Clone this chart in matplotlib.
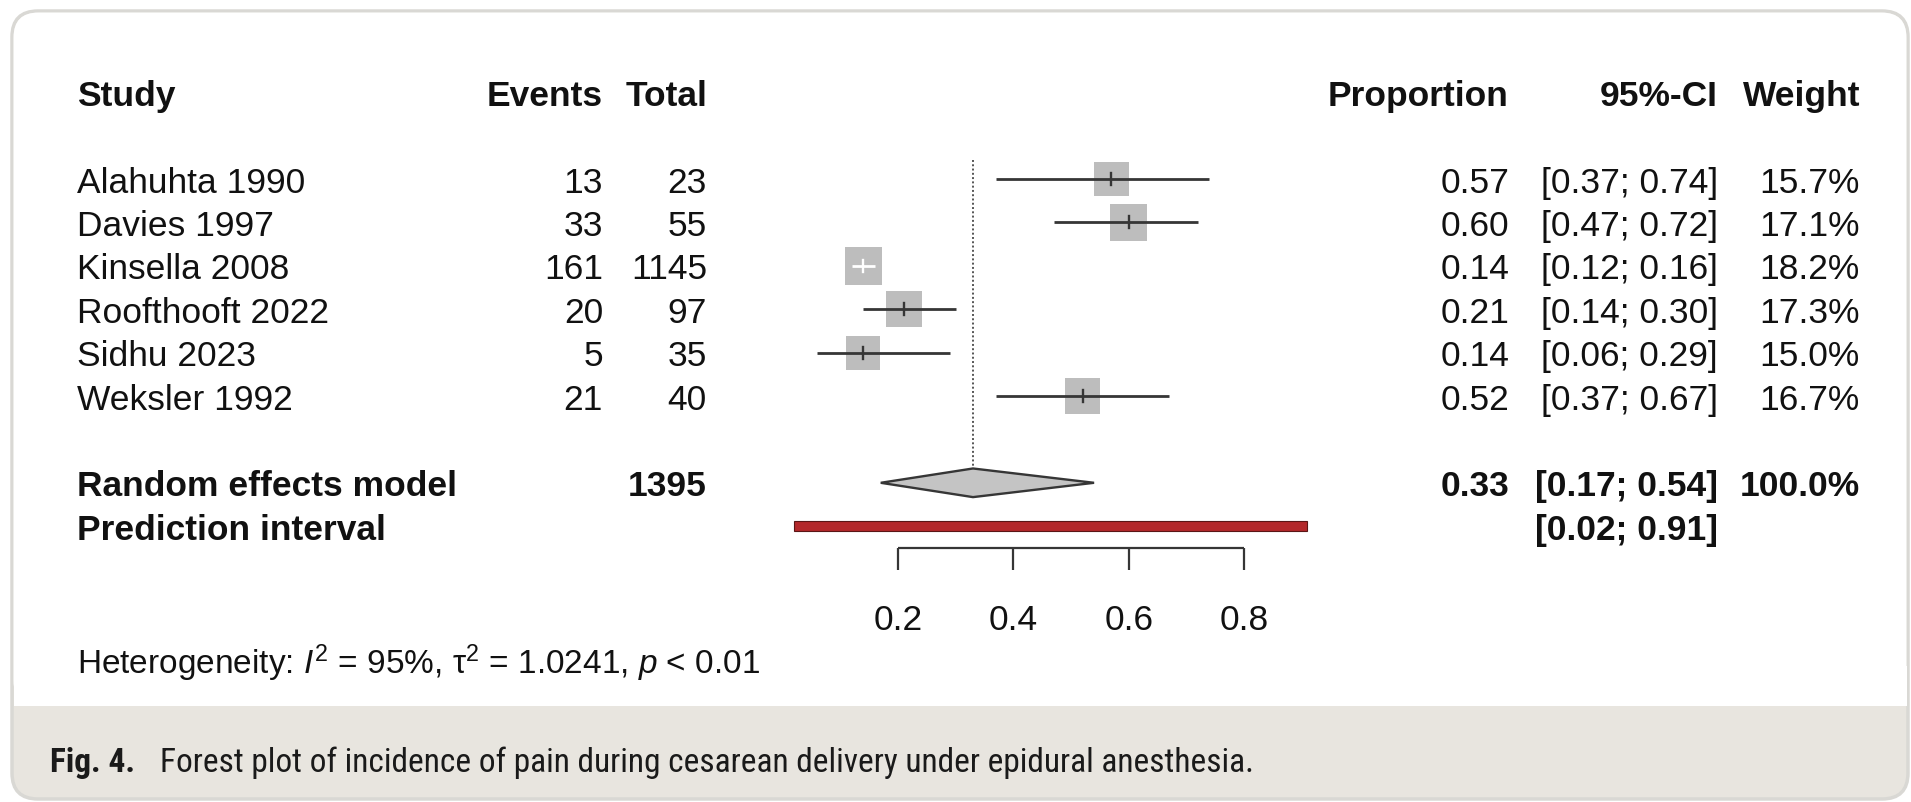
import numpy as np
import matplotlib.pyplot as plt
from matplotlib import font_manager
from matplotlib.patches import Rectangle, Polygon, FancyBboxPatch
from matplotlib.transforms import Affine2D, blended_transform_factory

plt.rcParams['font.family'] = ['Liberation Sans', 'DejaVu Sans']
plt.rcParams['mathtext.fontset'] = 'custom'
plt.rcParams['mathtext.rm'] = 'Liberation Sans'
plt.rcParams['mathtext.it'] = 'Liberation Sans:italic'
plt.rcParams['mathtext.bf'] = 'Liberation Sans:bold'

# study-level data
studies = ["Alahuhta 1990", "Davies 1997", "Kinsella 2008",
           "Roofthooft 2022", "Sidhu 2023", "Weksler 1992"]
events = [13, 33, 161, 20, 5, 21]
totals = [23, 55, 1145, 97, 35, 40]
props = [0.57, 0.60, 0.14, 0.21, 0.14, 0.52]
ci_low = [0.37, 0.47, 0.12, 0.14, 0.06, 0.37]
ci_high = [0.74, 0.72, 0.16, 0.30, 0.29, 0.67]
weights = [15.7, 17.1, 18.2, 17.3, 15.0, 16.7]

# pooled estimate
pooled_n = 1395
pooled_prop = 0.33
pooled_ci = (0.17, 0.54)
pred_int = (0.02, 0.91)
x_ticks = [0.2, 0.4, 0.6, 0.8]

het_text = r"Heterogeneity: $I^2$ = 95%, τ$^2$ = 1.0241, $p$ < 0.01"
caption_bold = "Fig. 4."
caption_text = "Forest plot of incidence of pain during cesarean delivery under epidural anesthesia."

W, H = 1911, 803
FS = 25.5
INK = "#111111"
LINE = "#363636"

fig = plt.figure(figsize=(W / 100, H / 100), dpi=100)
fig.patch.set_facecolor("white")

# pixel-space transform for the card behind the plot
pix = Affine2D().scale(1 / W, 1 / H) + fig.transFigure
card = FancyBboxPatch((12, H - 800), 1896, 788,
                      boxstyle="round,pad=0,rounding_size=26",
                      transform=pix, fc="#e8e5df", ec="#d9d8d4", lw=2.5, zorder=-10)
fig.add_artist(card)
upper = FancyBboxPatch((13.5, H - 707), 1893, 707 - 13.5,
                       boxstyle="round,pad=0,rounding_size=25",
                       transform=pix, fc="white", ec="none", zorder=-9)
fig.add_artist(upper)
fig.add_artist(Rectangle((13.5, H - 707), 1893, 40, transform=pix,
                         fc="white", ec="none", zorder=-9))

# one axes over the whole figure: x in proportion units, y in row units
ax = fig.add_axes([0, 0, 1, 1])
ax.patch.set_visible(False)
ax.set_axis_off()
px_per_unit = 576.6
x_zero = 782.7
row_px = 43.4
row0 = 180.0
ax.set_xlim(-x_zero / px_per_unit, (W - x_zero) / px_per_unit)
ax.set_ylim((H - row0) / row_px, -row0 / row_px)

tcol = blended_transform_factory(fig.transFigure, ax.transData)
base = 0.29  # baseline offset so text sits centred on its row


def put(xpix, row, s, ha="left", weight="normal", size=FS):
    ax.text(xpix / W, row + base, s, transform=tcol, ha=ha, va="baseline",
            fontsize=size, fontweight=weight, color=INK)


# headers
hdr = -2
put(77, hdr, "Study", weight="bold")
put(603, hdr, "Events", ha="right", weight="bold")
put(707, hdr, "Total", ha="right", weight="bold")
put(1509, hdr, "Proportion", ha="right", weight="bold")
put(1718, hdr, "95%-CI", ha="right", weight="bold")
put(1860, hdr, "Weight", ha="right", weight="bold")

rows = np.arange(len(studies))
sq_k = 8.79  # square side in px per sqrt(weight)
for r, name, e, n, p, lo, hi, w in zip(rows, studies, events, totals,
                                        props, ci_low, ci_high, weights):
    put(77, r, name)
    put(603, r, f"{e}", ha="right")
    put(707, r, f"{n}", ha="right")
    put(1509, r, f"{p:.2f}", ha="right")
    put(1718, r, f"[{lo:.2f}; {hi:.2f}]", ha="right")
    put(1860, r, f"{w:.1f}%", ha="right")

    side = sq_k * np.sqrt(w)
    sw, sh = side / px_per_unit, side / row_px
    ax.add_patch(Rectangle((p - sw / 2, r - sh / 2), sw, sh,
                           fc="#bdbdbd", ec="none", zorder=2))
    inside = (p - lo) < sw / 2 and (hi - p) < sw / 2
    col = "white" if inside else LINE
    ax.plot([lo, hi], [r, r], color=col, lw=2.0, solid_capstyle="butt", zorder=3)
    ax.plot([p, p], [r - 0.14, r + 0.14], color=col, lw=1.7, zorder=3)

# pooled estimate row
r_re = len(studies) + 1
put(77, r_re, "Random effects model", weight="bold")
put(707, r_re, f"{pooled_n}", ha="right", weight="bold")
put(1509, r_re, f"{pooled_prop:.2f}", ha="right", weight="bold")
put(1718, r_re, f"[{pooled_ci[0]:.2f}; {pooled_ci[1]:.2f}]", ha="right", weight="bold")
put(1860, r_re, f"{sum(weights):.1f}%", ha="right", weight="bold")
dh = 0.33
ax.add_patch(Polygon([[pooled_ci[0], r_re], [pooled_prop, r_re - dh],
                      [pooled_ci[1], r_re], [pooled_prop, r_re + dh]],
                     closed=True, fc="#c4c4c4", ec=LINE, lw=1.7, zorder=3))

# reference line at the pooled value
ax.plot([pooled_prop, pooled_prop], [-0.44, r_re - dh], color="#555555",
        lw=1.4, ls=(0, (1, 1.2)), zorder=1)

# prediction interval
r_pi = r_re + 1
put(77, r_pi, "Prediction interval", weight="bold")
put(1718, r_pi, f"[{pred_int[0]:.2f}; {pred_int[1]:.2f}]", ha="right", weight="bold")
ax.add_patch(Rectangle((pred_int[0], r_pi - 0.11), pred_int[1] - pred_int[0], 0.22,
                       fc="#b3282b", ec="#5a1616", lw=0.8, zorder=3))

# x axis drawn below the rows
y_axis = r_pi + 0.5
ax.plot([x_ticks[0], x_ticks[-1]], [y_axis, y_axis], color=LINE, lw=1.6,
        solid_capstyle="butt")
for t in x_ticks:
    ax.plot([t, t], [y_axis, y_axis + 0.5], color=LINE, lw=1.6, solid_capstyle="butt")
    ax.text(t, y_axis + 1.57 + base, f"{t:.1f}", ha="center", va="baseline",
            fontsize=FS, color=INK)

put(77, 11.1, het_text, size=24)

# caption in the grey band (use a narrow face if one is installed)
cap_font = None
cap_size = 19
for f in font_manager.fontManager.ttflist:
    if f.name in ("Liberation Sans Narrow", "Roboto Condensed", "Arial Narrow"):
        cap_font = f.name
        cap_size = 24
        break
cap_family = [cap_font, "Liberation Sans"] if cap_font else ["Liberation Sans"]
cap_y = 1 - 763 / H
fig.text(50 / W, cap_y, caption_bold, ha="left", va="center", fontsize=cap_size,
         fontweight="bold", family=cap_family, color="#1a1a1a")
fig.text(160 / W, cap_y, caption_text, ha="left", va="center", fontsize=cap_size,
         family=cap_family, color="#1a1a1a")

fig.savefig("out.png", dpi=100, facecolor="white")
